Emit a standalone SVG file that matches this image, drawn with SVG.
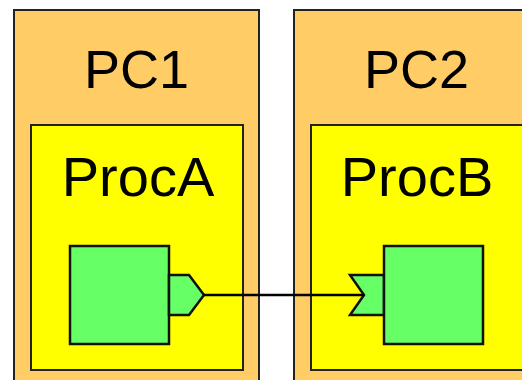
<svg xmlns="http://www.w3.org/2000/svg" width="522" height="380" viewBox="0 0 522 380">
<style>
.pc{fill:#FFCC66;stroke:#222;stroke-width:2}
.proc{fill:#FFFF00;stroke:#222;stroke-width:2}
.comp{fill:#66FF66;stroke:#111;stroke-width:2.5}
.lbl{font-family:"Liberation Sans",Arial,sans-serif;font-size:54px;fill:#000;text-anchor:middle}
.lbl2{font-size:56px}
.wire{fill:none;stroke:#000;stroke-width:2.5}
</style>
<rect width="522" height="380" fill="#fff"/>
<g id="PC1">
<rect class="pc" x="14" y="10" width="245" height="390"/>
<text class="lbl" x="136.5" y="88">PC1</text>
</g>
<g id="PC2">
<rect class="pc" x="294" y="10" width="245" height="390"/>
<text class="lbl" x="416.5" y="88">PC2</text>
</g>
<g id="ProcA">
<rect class="proc" x="31" y="125" width="212" height="245"/>
<text class="lbl lbl2" x="138" y="196">ProcA</text>
</g>
<g id="ProcB">
<rect class="proc" x="311" y="125" width="212" height="245"/>
<text class="lbl lbl2" x="417" y="196">ProcB</text>
</g>
<g id="CompA">
<rect class="comp" x="70" y="246" width="99" height="98"/>
<polygon class="comp" points="169,275 189,275 204,295 189,315 169,315"/>
</g>
<g id="CompB">
<polygon class="comp" points="350,275 384,275 384,315 350,315 364,295"/>
<rect class="comp" x="384" y="246" width="99" height="98"/>
</g>
<g id="connectors">
<path class="wire" d="M204,295 H364"/>
</g>
</svg>
